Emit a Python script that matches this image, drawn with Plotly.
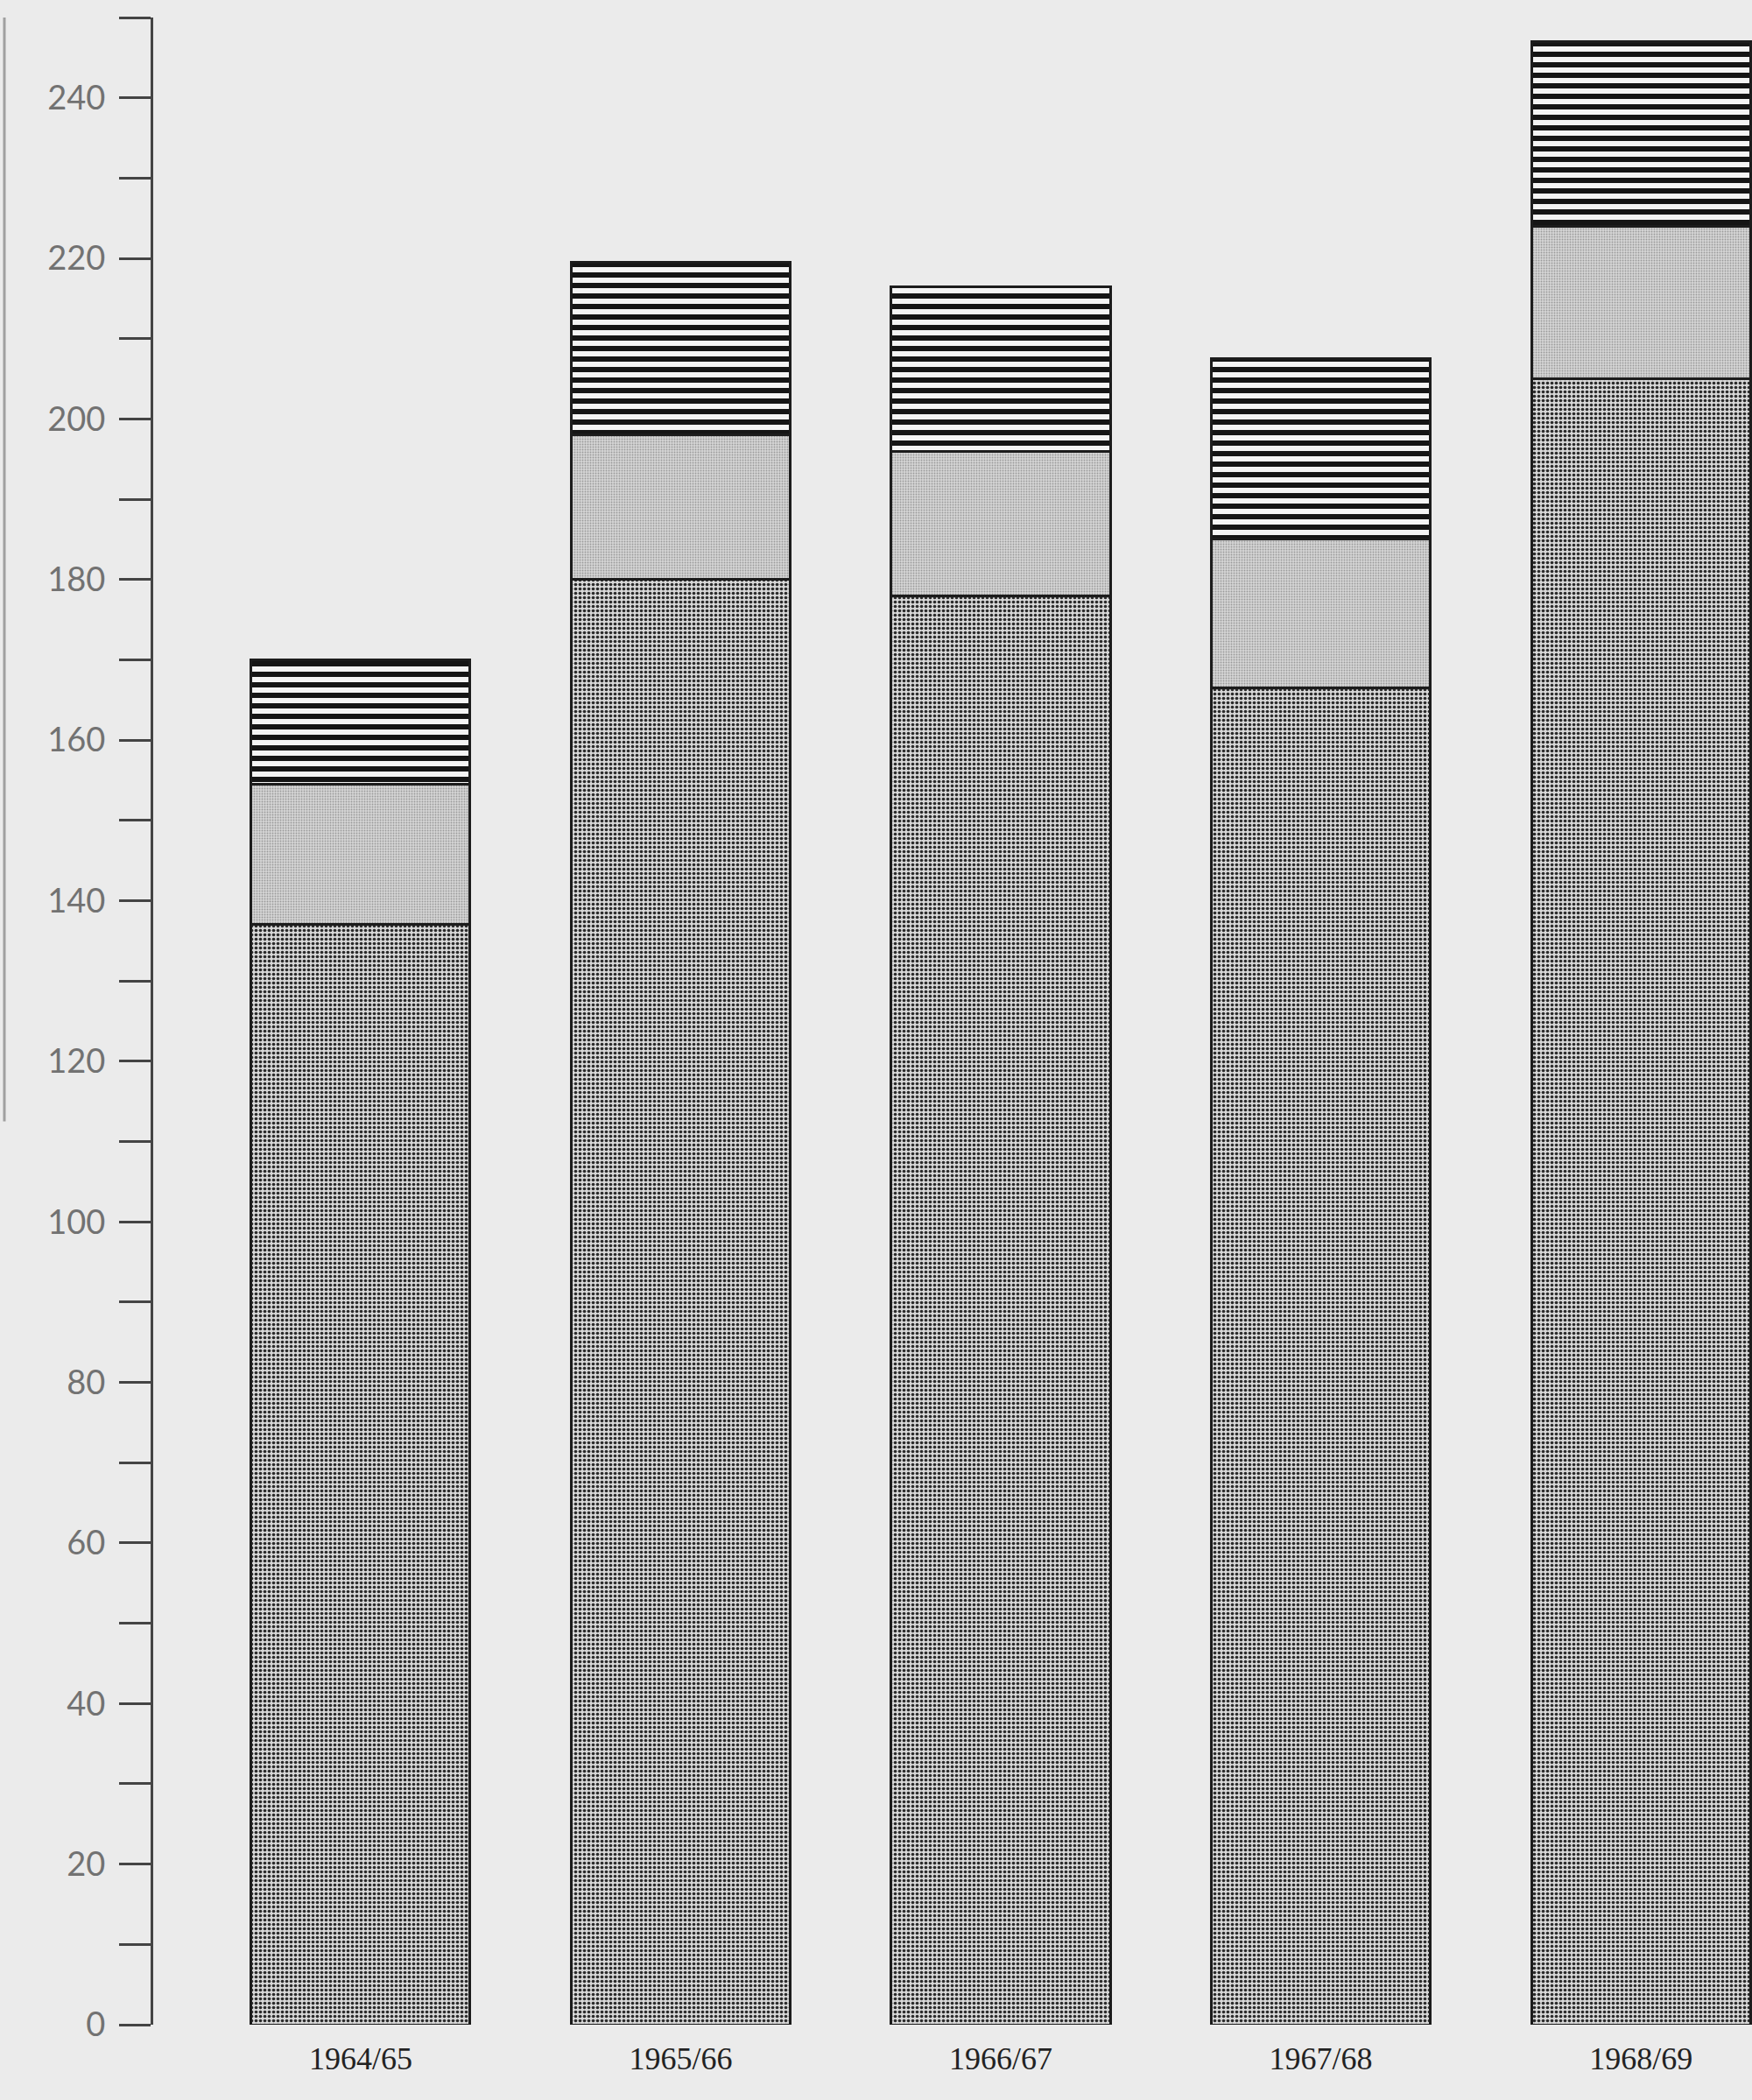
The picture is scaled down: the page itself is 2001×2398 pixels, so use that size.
import plotly.graph_objects as go

# ---- data ----
years = ["1964/65", "1965/66", "1966/67", "1967/68", "1968/69"]
base_segment = [137, 180, 178, 166.5, 205]        # stippled lower part
middle_segment = [17.5, 18, 18, 18.5, 19]         # light grey screen
top_segment = [15.5, 21.5, 20.5, 22.5, 23]        # horizontal stripes

y_tick_values = list(range(0, 251, 10))
y_tick_labels = [str(v) if v % 20 == 0 else "" for v in y_tick_values]

W, H = 2001, 2398
paper = "#ebebeb"
outline = dict(color="#1c1c1c", width=3)

fig = go.Figure()
fig.add_trace(go.Bar(
    x=years, y=base_segment, name="base",
    marker=dict(color="#c9c9c9", line=outline,
                pattern=dict(shape=".", size=5, solidity=0.42,
                             fgcolor="#2a2a2a", bgcolor="#d6d6d6",
                             fillmode="replace")),
))
fig.add_trace(go.Bar(
    x=years, y=middle_segment, name="middle",
    marker=dict(color="#cfcfcf", line=outline,
                pattern=dict(shape=".", size=3, solidity=0.3,
                             fgcolor="#9a9a9a", bgcolor="#d6d6d6",
                             fillmode="replace")),
))
fig.add_trace(go.Bar(
    x=years, y=top_segment, name="top",
    marker=dict(color="#111111", line=outline,
                pattern=dict(shape="-", size=12, solidity=0.5,
                             fgcolor="#151515", bgcolor="#f4f4f4",
                             fillmode="replace")),
))

fig.update_layout(
    width=W, height=H, autosize=False,
    barmode="stack", bargap=0.316,
    showlegend=False,
    paper_bgcolor=paper, plot_bgcolor=paper,
    margin=dict(l=175, r=0, t=20, b=86, pad=0),
    xaxis=dict(
        type="category", range=[-0.648, 4.347],
        showline=False, showgrid=False, zeroline=False,
        ticks="", ticklabelstandoff=14,
        tickfont=dict(family="Liberation Serif", size=36, color="#222222"),
    ),
    yaxis=dict(
        range=[0, 250], showgrid=False, zeroline=False,
        showline=True, linecolor="#444444", linewidth=3,
        tickmode="array", tickvals=y_tick_values, ticktext=y_tick_labels,
        ticks="outside", ticklen=36, tickwidth=2.5, tickcolor="#444444",
        ticklabelstandoff=8,
        tickfont=dict(family="Lato", size=38, color="#727272"),
    ),
    shapes=[dict(type="line", xref="paper", yref="paper",
                 x0=-170 / (W - 175), x1=-170 / (W - 175),
                 y0=1.0, y1=0.45,
                 line=dict(color="#a0a0a0", width=3))],
)

fig.write_html("out.html", config={"displayModeBar": False},
               post_script="document.body.style.margin='0';document.body.style.background='%s';" % paper)
